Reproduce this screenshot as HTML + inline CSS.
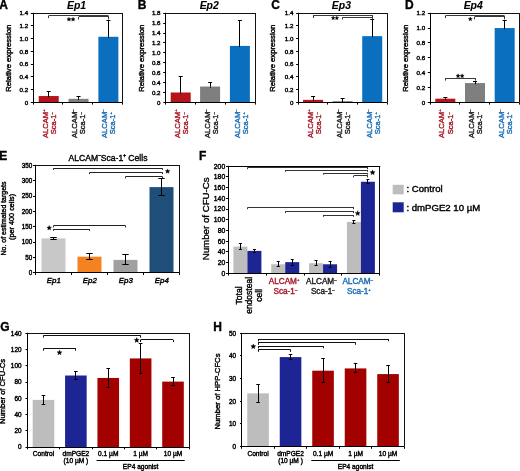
<!DOCTYPE html>
<html><head><meta charset="utf-8"><style>
html,body{margin:0;padding:0;background:#fff;width:520px;height:471px;overflow:hidden}
svg{display:block;will-change:transform}
text{font-family:"Liberation Sans", sans-serif}
</style></head><body>
<svg width="520" height="471" viewBox="0 0 520 471">
<rect width="520" height="471" fill="#fff"/>
<text x="-0.70" y="8.70" font-size="12" text-anchor="start" fill="#000" stroke="#000" stroke-width="0.35" font-weight="bold" font-style="normal" >A</text>
<text x="76.60" y="8.70" font-size="10.4" text-anchor="middle" fill="#000" stroke="#000" stroke-width="0.1" font-weight="bold" font-style="italic" >Ep1</text>
<line x1="33.00" y1="13.50" x2="123.00" y2="13.50" stroke="#111" stroke-width="1" />
<line x1="122.50" y1="13.20" x2="122.50" y2="102.40" stroke="#111" stroke-width="1" />
<line x1="48.50" y1="91.82" x2="48.50" y2="96.03" stroke="#000" stroke-width="1" />
<line x1="46.72" y1="91.50" x2="50.72" y2="91.50" stroke="#000" stroke-width="1" />
<rect x="38.72" y="96.03" width="20.00" height="6.37" fill="#b5141c"/>
<line x1="48.50" y1="96.03" x2="48.50" y2="97.23" stroke="#000" stroke-width="1" />
<line x1="78.50" y1="96.22" x2="78.50" y2="98.83" stroke="#000" stroke-width="1" />
<line x1="76.55" y1="96.50" x2="80.55" y2="96.50" stroke="#000" stroke-width="1" />
<rect x="68.55" y="98.83" width="20.00" height="3.57" fill="#7f7f7f"/>
<line x1="78.50" y1="98.83" x2="78.50" y2="100.03" stroke="#000" stroke-width="1" />
<line x1="108.50" y1="20.21" x2="108.50" y2="36.77" stroke="#000" stroke-width="1" />
<line x1="106.38" y1="20.50" x2="110.38" y2="20.50" stroke="#000" stroke-width="1" />
<rect x="98.38" y="36.77" width="20.00" height="65.63" fill="#0a6fbf"/>
<line x1="108.50" y1="36.77" x2="108.50" y2="37.97" stroke="#000" stroke-width="1" />
<line x1="33.50" y1="12.80" x2="33.50" y2="102.80" stroke="#000" stroke-width="1" />
<line x1="33.00" y1="102.50" x2="122.50" y2="102.50" stroke="#000" stroke-width="1" />
<line x1="30.80" y1="102.50" x2="33.00" y2="102.50" stroke="#000" stroke-width="1" />
<text x="28.10" y="104.60" font-size="6.2" text-anchor="end" fill="#000" stroke="#000" stroke-width="0.4" font-weight="normal" font-style="normal" >0</text>
<line x1="30.80" y1="89.50" x2="33.00" y2="89.50" stroke="#000" stroke-width="1" />
<text x="28.10" y="91.86" font-size="6.2" text-anchor="end" fill="#000" stroke="#000" stroke-width="0.4" font-weight="normal" font-style="normal" >0.2</text>
<line x1="30.80" y1="76.50" x2="33.00" y2="76.50" stroke="#000" stroke-width="1" />
<text x="28.10" y="79.11" font-size="6.2" text-anchor="end" fill="#000" stroke="#000" stroke-width="0.4" font-weight="normal" font-style="normal" >0.4</text>
<line x1="30.80" y1="64.50" x2="33.00" y2="64.50" stroke="#000" stroke-width="1" />
<text x="28.10" y="66.37" font-size="6.2" text-anchor="end" fill="#000" stroke="#000" stroke-width="0.4" font-weight="normal" font-style="normal" >0.6</text>
<line x1="30.80" y1="51.50" x2="33.00" y2="51.50" stroke="#000" stroke-width="1" />
<text x="28.10" y="53.63" font-size="6.2" text-anchor="end" fill="#000" stroke="#000" stroke-width="0.4" font-weight="normal" font-style="normal" >0.8</text>
<line x1="30.80" y1="38.50" x2="33.00" y2="38.50" stroke="#000" stroke-width="1" />
<text x="28.10" y="40.89" font-size="6.2" text-anchor="end" fill="#000" stroke="#000" stroke-width="0.4" font-weight="normal" font-style="normal" >1.0</text>
<line x1="30.80" y1="25.50" x2="33.00" y2="25.50" stroke="#000" stroke-width="1" />
<text x="28.10" y="28.14" font-size="6.2" text-anchor="end" fill="#000" stroke="#000" stroke-width="0.4" font-weight="normal" font-style="normal" >1.2</text>
<line x1="30.80" y1="13.50" x2="33.00" y2="13.50" stroke="#000" stroke-width="1" />
<text x="28.10" y="15.40" font-size="6.2" text-anchor="end" fill="#000" stroke="#000" stroke-width="0.4" font-weight="normal" font-style="normal" >1.4</text>
<line x1="33.50" y1="102.40" x2="33.50" y2="104.60" stroke="#000" stroke-width="1" />
<line x1="62.50" y1="102.40" x2="62.50" y2="104.60" stroke="#000" stroke-width="1" />
<line x1="92.50" y1="102.40" x2="92.50" y2="104.60" stroke="#000" stroke-width="1" />
<line x1="122.50" y1="102.40" x2="122.50" y2="104.60" stroke="#000" stroke-width="1" />
<text x="0" y="0" transform="translate(11.30,58.30) rotate(-90)" font-size="7.7" text-anchor="middle" fill="#000" stroke="#000" stroke-width="0.4" font-weight="normal" font-style="normal" textLength="67.00" lengthAdjust="spacingAndGlyphs" >Relative expression</text>
<text x="0" y="0" transform="translate(47.52,123.70) rotate(-90)" font-size="7.6" text-anchor="middle" fill="#a81a2a" stroke="#a81a2a" stroke-width="0.4" font-weight="normal" font-style="normal" >ALCAM<tspan font-size="4.2" dy="-3.0">+</tspan></text>
<text x="0" y="0" transform="translate(55.62,123.20) rotate(-90)" font-size="7.6" text-anchor="middle" fill="#a81a2a" stroke="#a81a2a" stroke-width="0.4" font-weight="normal" font-style="normal" >Sca-1<tspan font-size="4.2" dy="-3.0">&#8211;</tspan></text>
<text x="0" y="0" transform="translate(77.35,123.70) rotate(-90)" font-size="7.6" text-anchor="middle" fill="#222" stroke="#222" stroke-width="0.4" font-weight="normal" font-style="normal" >ALCAM<tspan font-size="4.2" dy="-3.0">&#8211;</tspan></text>
<text x="0" y="0" transform="translate(85.45,123.20) rotate(-90)" font-size="7.6" text-anchor="middle" fill="#222" stroke="#222" stroke-width="0.4" font-weight="normal" font-style="normal" >Sca-1<tspan font-size="4.2" dy="-3.0">&#8211;</tspan></text>
<text x="0" y="0" transform="translate(107.18,123.70) rotate(-90)" font-size="7.6" text-anchor="middle" fill="#1f6fb5" stroke="#1f6fb5" stroke-width="0.4" font-weight="normal" font-style="normal" >ALCAM<tspan font-size="4.2" dy="-3.0">&#8211;</tspan></text>
<text x="0" y="0" transform="translate(115.28,123.20) rotate(-90)" font-size="7.6" text-anchor="middle" fill="#1f6fb5" stroke="#1f6fb5" stroke-width="0.4" font-weight="normal" font-style="normal" >Sca-1<tspan font-size="4.2" dy="-3.0">+</tspan></text>
<line x1="48.90" y1="15.50" x2="108.20" y2="15.50" stroke="#3a3a3a" stroke-width="1" />
<line x1="48.50" y1="15.60" x2="48.50" y2="18.10" stroke="#3a3a3a" stroke-width="1" />
<line x1="108.50" y1="15.60" x2="108.50" y2="18.10" stroke="#3a3a3a" stroke-width="1" />
<line x1="78.80" y1="16.50" x2="108.20" y2="16.50" stroke="#3a3a3a" stroke-width="1" />
<line x1="78.50" y1="16.90" x2="78.50" y2="19.50" stroke="#3a3a3a" stroke-width="1" />
<line x1="108.50" y1="16.90" x2="108.50" y2="19.50" stroke="#3a3a3a" stroke-width="1" />
<polygon points="68.96,17.20 69.53,18.57 71.00,18.68 69.88,19.65 70.22,21.09 68.96,20.32 67.69,21.09 68.04,19.65 66.91,18.68 68.39,18.57" fill="#000" stroke="#000" stroke-width="0.35" stroke-linejoin="round"/>
<polygon points="73.04,17.20 73.61,18.57 75.09,18.68 73.96,19.65 74.31,21.09 73.04,20.32 71.78,21.09 72.12,19.65 71.00,18.68 72.47,18.57" fill="#000" stroke="#000" stroke-width="0.35" stroke-linejoin="round"/>
<text x="137.80" y="8.70" font-size="12" text-anchor="start" fill="#000" stroke="#000" stroke-width="0.35" font-weight="bold" font-style="normal" >B</text>
<text x="209.20" y="8.70" font-size="10.4" text-anchor="middle" fill="#000" stroke="#000" stroke-width="0.1" font-weight="bold" font-style="italic" >Ep2</text>
<line x1="165.40" y1="13.50" x2="255.90" y2="13.50" stroke="#111" stroke-width="1" />
<line x1="255.50" y1="13.20" x2="255.50" y2="102.40" stroke="#111" stroke-width="1" />
<line x1="180.50" y1="76.63" x2="180.50" y2="92.49" stroke="#000" stroke-width="1" />
<line x1="178.70" y1="76.50" x2="182.70" y2="76.50" stroke="#000" stroke-width="1" />
<rect x="170.70" y="92.49" width="20.00" height="9.91" fill="#b5141c"/>
<line x1="180.50" y1="92.49" x2="180.50" y2="93.69" stroke="#000" stroke-width="1" />
<line x1="210.50" y1="82.58" x2="210.50" y2="86.54" stroke="#000" stroke-width="1" />
<line x1="208.10" y1="82.50" x2="212.10" y2="82.50" stroke="#000" stroke-width="1" />
<rect x="200.10" y="86.54" width="20.00" height="15.86" fill="#7f7f7f"/>
<line x1="210.50" y1="86.54" x2="210.50" y2="87.74" stroke="#000" stroke-width="1" />
<line x1="239.50" y1="20.39" x2="239.50" y2="45.91" stroke="#000" stroke-width="1" />
<line x1="237.90" y1="20.50" x2="241.90" y2="20.50" stroke="#000" stroke-width="1" />
<rect x="229.90" y="45.91" width="20.00" height="56.49" fill="#0a6fbf"/>
<line x1="239.50" y1="45.91" x2="239.50" y2="47.11" stroke="#000" stroke-width="1" />
<line x1="165.50" y1="12.80" x2="165.50" y2="102.80" stroke="#000" stroke-width="1" />
<line x1="165.40" y1="102.50" x2="255.40" y2="102.50" stroke="#000" stroke-width="1" />
<line x1="163.20" y1="102.50" x2="165.40" y2="102.50" stroke="#000" stroke-width="1" />
<text x="160.50" y="104.60" font-size="6.2" text-anchor="end" fill="#000" stroke="#000" stroke-width="0.4" font-weight="normal" font-style="normal" >0</text>
<line x1="163.20" y1="92.50" x2="165.40" y2="92.50" stroke="#000" stroke-width="1" />
<text x="160.50" y="94.69" font-size="6.2" text-anchor="end" fill="#000" stroke="#000" stroke-width="0.4" font-weight="normal" font-style="normal" >0.2</text>
<line x1="163.20" y1="82.50" x2="165.40" y2="82.50" stroke="#000" stroke-width="1" />
<text x="160.50" y="84.78" font-size="6.2" text-anchor="end" fill="#000" stroke="#000" stroke-width="0.4" font-weight="normal" font-style="normal" >0.4</text>
<line x1="163.20" y1="72.50" x2="165.40" y2="72.50" stroke="#000" stroke-width="1" />
<text x="160.50" y="74.87" font-size="6.2" text-anchor="end" fill="#000" stroke="#000" stroke-width="0.4" font-weight="normal" font-style="normal" >0.6</text>
<line x1="163.20" y1="62.50" x2="165.40" y2="62.50" stroke="#000" stroke-width="1" />
<text x="160.50" y="64.96" font-size="6.2" text-anchor="end" fill="#000" stroke="#000" stroke-width="0.4" font-weight="normal" font-style="normal" >0.8</text>
<line x1="163.20" y1="52.50" x2="165.40" y2="52.50" stroke="#000" stroke-width="1" />
<text x="160.50" y="55.04" font-size="6.2" text-anchor="end" fill="#000" stroke="#000" stroke-width="0.4" font-weight="normal" font-style="normal" >1.0</text>
<line x1="163.20" y1="42.50" x2="165.40" y2="42.50" stroke="#000" stroke-width="1" />
<text x="160.50" y="45.13" font-size="6.2" text-anchor="end" fill="#000" stroke="#000" stroke-width="0.4" font-weight="normal" font-style="normal" >1.2</text>
<line x1="163.20" y1="33.50" x2="165.40" y2="33.50" stroke="#000" stroke-width="1" />
<text x="160.50" y="35.22" font-size="6.2" text-anchor="end" fill="#000" stroke="#000" stroke-width="0.4" font-weight="normal" font-style="normal" >1.4</text>
<line x1="163.20" y1="23.50" x2="165.40" y2="23.50" stroke="#000" stroke-width="1" />
<text x="160.50" y="25.31" font-size="6.2" text-anchor="end" fill="#000" stroke="#000" stroke-width="0.4" font-weight="normal" font-style="normal" >1.6</text>
<line x1="163.20" y1="13.50" x2="165.40" y2="13.50" stroke="#000" stroke-width="1" />
<text x="160.50" y="15.40" font-size="6.2" text-anchor="end" fill="#000" stroke="#000" stroke-width="0.4" font-weight="normal" font-style="normal" >1.8</text>
<line x1="165.50" y1="102.40" x2="165.50" y2="104.60" stroke="#000" stroke-width="1" />
<line x1="195.50" y1="102.40" x2="195.50" y2="104.60" stroke="#000" stroke-width="1" />
<line x1="225.50" y1="102.40" x2="225.50" y2="104.60" stroke="#000" stroke-width="1" />
<line x1="255.50" y1="102.40" x2="255.50" y2="104.60" stroke="#000" stroke-width="1" />
<text x="0" y="0" transform="translate(144.30,58.30) rotate(-90)" font-size="7.7" text-anchor="middle" fill="#000" stroke="#000" stroke-width="0.4" font-weight="normal" font-style="normal" textLength="67.00" lengthAdjust="spacingAndGlyphs" >Relative expression</text>
<text x="0" y="0" transform="translate(180.00,123.70) rotate(-90)" font-size="7.6" text-anchor="middle" fill="#a81a2a" stroke="#a81a2a" stroke-width="0.4" font-weight="normal" font-style="normal" >ALCAM<tspan font-size="4.2" dy="-3.0">+</tspan></text>
<text x="0" y="0" transform="translate(188.10,123.20) rotate(-90)" font-size="7.6" text-anchor="middle" fill="#a81a2a" stroke="#a81a2a" stroke-width="0.4" font-weight="normal" font-style="normal" >Sca-1<tspan font-size="4.2" dy="-3.0">&#8211;</tspan></text>
<text x="0" y="0" transform="translate(210.00,123.70) rotate(-90)" font-size="7.6" text-anchor="middle" fill="#222" stroke="#222" stroke-width="0.4" font-weight="normal" font-style="normal" >ALCAM<tspan font-size="4.2" dy="-3.0">&#8211;</tspan></text>
<text x="0" y="0" transform="translate(218.10,123.20) rotate(-90)" font-size="7.6" text-anchor="middle" fill="#222" stroke="#222" stroke-width="0.4" font-weight="normal" font-style="normal" >Sca-1<tspan font-size="4.2" dy="-3.0">&#8211;</tspan></text>
<text x="0" y="0" transform="translate(240.00,123.70) rotate(-90)" font-size="7.6" text-anchor="middle" fill="#1f6fb5" stroke="#1f6fb5" stroke-width="0.4" font-weight="normal" font-style="normal" >ALCAM<tspan font-size="4.2" dy="-3.0">&#8211;</tspan></text>
<text x="0" y="0" transform="translate(248.10,123.20) rotate(-90)" font-size="7.6" text-anchor="middle" fill="#1f6fb5" stroke="#1f6fb5" stroke-width="0.4" font-weight="normal" font-style="normal" >Sca-1<tspan font-size="4.2" dy="-3.0">+</tspan></text>
<text x="271.30" y="8.70" font-size="12" text-anchor="start" fill="#000" stroke="#000" stroke-width="0.35" font-weight="bold" font-style="normal" >C</text>
<text x="341.40" y="8.70" font-size="10.4" text-anchor="middle" fill="#000" stroke="#000" stroke-width="0.1" font-weight="bold" font-style="italic" >Ep3</text>
<line x1="298.30" y1="13.50" x2="387.50" y2="13.50" stroke="#111" stroke-width="1" />
<line x1="387.50" y1="13.20" x2="387.50" y2="102.40" stroke="#111" stroke-width="1" />
<line x1="313.50" y1="96.03" x2="313.50" y2="99.85" stroke="#000" stroke-width="1" />
<line x1="311.08" y1="96.50" x2="315.08" y2="96.50" stroke="#000" stroke-width="1" />
<rect x="303.08" y="99.85" width="20.00" height="2.55" fill="#b5141c"/>
<line x1="313.50" y1="99.85" x2="313.50" y2="101.05" stroke="#000" stroke-width="1" />
<line x1="342.50" y1="98.58" x2="342.50" y2="101.13" stroke="#000" stroke-width="1" />
<line x1="340.65" y1="98.50" x2="344.65" y2="98.50" stroke="#000" stroke-width="1" />
<rect x="332.65" y="101.13" width="20.00" height="1.27" fill="#7f7f7f"/>
<line x1="342.50" y1="101.13" x2="342.50" y2="102.33" stroke="#000" stroke-width="1" />
<line x1="372.50" y1="19.57" x2="372.50" y2="36.14" stroke="#000" stroke-width="1" />
<line x1="370.22" y1="19.50" x2="374.22" y2="19.50" stroke="#000" stroke-width="1" />
<rect x="362.22" y="36.14" width="20.00" height="66.26" fill="#0a6fbf"/>
<line x1="372.50" y1="36.14" x2="372.50" y2="37.34" stroke="#000" stroke-width="1" />
<line x1="298.50" y1="12.80" x2="298.50" y2="102.80" stroke="#000" stroke-width="1" />
<line x1="298.30" y1="102.50" x2="387.00" y2="102.50" stroke="#000" stroke-width="1" />
<line x1="296.10" y1="102.50" x2="298.30" y2="102.50" stroke="#000" stroke-width="1" />
<text x="293.40" y="104.60" font-size="6.2" text-anchor="end" fill="#000" stroke="#000" stroke-width="0.4" font-weight="normal" font-style="normal" >0</text>
<line x1="296.10" y1="89.50" x2="298.30" y2="89.50" stroke="#000" stroke-width="1" />
<text x="293.40" y="91.86" font-size="6.2" text-anchor="end" fill="#000" stroke="#000" stroke-width="0.4" font-weight="normal" font-style="normal" >0.2</text>
<line x1="296.10" y1="76.50" x2="298.30" y2="76.50" stroke="#000" stroke-width="1" />
<text x="293.40" y="79.11" font-size="6.2" text-anchor="end" fill="#000" stroke="#000" stroke-width="0.4" font-weight="normal" font-style="normal" >0.4</text>
<line x1="296.10" y1="64.50" x2="298.30" y2="64.50" stroke="#000" stroke-width="1" />
<text x="293.40" y="66.37" font-size="6.2" text-anchor="end" fill="#000" stroke="#000" stroke-width="0.4" font-weight="normal" font-style="normal" >0.6</text>
<line x1="296.10" y1="51.50" x2="298.30" y2="51.50" stroke="#000" stroke-width="1" />
<text x="293.40" y="53.63" font-size="6.2" text-anchor="end" fill="#000" stroke="#000" stroke-width="0.4" font-weight="normal" font-style="normal" >0.8</text>
<line x1="296.10" y1="38.50" x2="298.30" y2="38.50" stroke="#000" stroke-width="1" />
<text x="293.40" y="40.89" font-size="6.2" text-anchor="end" fill="#000" stroke="#000" stroke-width="0.4" font-weight="normal" font-style="normal" >1.0</text>
<line x1="296.10" y1="25.50" x2="298.30" y2="25.50" stroke="#000" stroke-width="1" />
<text x="293.40" y="28.14" font-size="6.2" text-anchor="end" fill="#000" stroke="#000" stroke-width="0.4" font-weight="normal" font-style="normal" >1.2</text>
<line x1="296.10" y1="13.50" x2="298.30" y2="13.50" stroke="#000" stroke-width="1" />
<text x="293.40" y="15.40" font-size="6.2" text-anchor="end" fill="#000" stroke="#000" stroke-width="0.4" font-weight="normal" font-style="normal" >1.4</text>
<line x1="298.50" y1="102.40" x2="298.50" y2="104.60" stroke="#000" stroke-width="1" />
<line x1="327.50" y1="102.40" x2="327.50" y2="104.60" stroke="#000" stroke-width="1" />
<line x1="357.50" y1="102.40" x2="357.50" y2="104.60" stroke="#000" stroke-width="1" />
<line x1="387.50" y1="102.40" x2="387.50" y2="104.60" stroke="#000" stroke-width="1" />
<text x="0" y="0" transform="translate(275.10,58.30) rotate(-90)" font-size="7.7" text-anchor="middle" fill="#000" stroke="#000" stroke-width="0.4" font-weight="normal" font-style="normal" textLength="67.00" lengthAdjust="spacingAndGlyphs" >Relative expression</text>
<text x="0" y="0" transform="translate(312.68,123.70) rotate(-90)" font-size="7.6" text-anchor="middle" fill="#a81a2a" stroke="#a81a2a" stroke-width="0.4" font-weight="normal" font-style="normal" >ALCAM<tspan font-size="4.2" dy="-3.0">+</tspan></text>
<text x="0" y="0" transform="translate(320.78,123.20) rotate(-90)" font-size="7.6" text-anchor="middle" fill="#a81a2a" stroke="#a81a2a" stroke-width="0.4" font-weight="normal" font-style="normal" >Sca-1<tspan font-size="4.2" dy="-3.0">&#8211;</tspan></text>
<text x="0" y="0" transform="translate(342.25,123.70) rotate(-90)" font-size="7.6" text-anchor="middle" fill="#222" stroke="#222" stroke-width="0.4" font-weight="normal" font-style="normal" >ALCAM<tspan font-size="4.2" dy="-3.0">&#8211;</tspan></text>
<text x="0" y="0" transform="translate(350.35,123.20) rotate(-90)" font-size="7.6" text-anchor="middle" fill="#222" stroke="#222" stroke-width="0.4" font-weight="normal" font-style="normal" >Sca-1<tspan font-size="4.2" dy="-3.0">&#8211;</tspan></text>
<text x="0" y="0" transform="translate(371.82,123.70) rotate(-90)" font-size="7.6" text-anchor="middle" fill="#1f6fb5" stroke="#1f6fb5" stroke-width="0.4" font-weight="normal" font-style="normal" >ALCAM<tspan font-size="4.2" dy="-3.0">&#8211;</tspan></text>
<text x="0" y="0" transform="translate(379.92,123.20) rotate(-90)" font-size="7.6" text-anchor="middle" fill="#1f6fb5" stroke="#1f6fb5" stroke-width="0.4" font-weight="normal" font-style="normal" >Sca-1<tspan font-size="4.2" dy="-3.0">+</tspan></text>
<line x1="313.00" y1="15.50" x2="372.20" y2="15.50" stroke="#3a3a3a" stroke-width="1" />
<line x1="313.50" y1="15.00" x2="313.50" y2="18.00" stroke="#3a3a3a" stroke-width="1" />
<line x1="372.50" y1="15.00" x2="372.50" y2="18.00" stroke="#3a3a3a" stroke-width="1" />
<line x1="342.50" y1="17.50" x2="372.20" y2="17.50" stroke="#3a3a3a" stroke-width="1" />
<line x1="342.50" y1="17.30" x2="342.50" y2="19.50" stroke="#3a3a3a" stroke-width="1" />
<line x1="372.50" y1="17.30" x2="372.50" y2="19.50" stroke="#3a3a3a" stroke-width="1" />
<polygon points="333.15,16.10 333.67,17.34 335.00,17.45 333.99,18.32 334.30,19.63 333.15,18.93 332.01,19.63 332.32,18.32 331.30,17.45 332.64,17.34" fill="#000" stroke="#000" stroke-width="0.35" stroke-linejoin="round"/>
<polygon points="336.85,16.10 337.36,17.34 338.70,17.45 337.68,18.32 337.99,19.63 336.85,18.93 335.70,19.63 336.01,18.32 335.00,17.45 336.33,17.34" fill="#000" stroke="#000" stroke-width="0.35" stroke-linejoin="round"/>
<text x="405.00" y="8.70" font-size="12" text-anchor="start" fill="#000" stroke="#000" stroke-width="0.35" font-weight="bold" font-style="normal" >D</text>
<text x="473.20" y="8.70" font-size="10.4" text-anchor="middle" fill="#000" stroke="#000" stroke-width="0.1" font-weight="bold" font-style="italic" >Ep4</text>
<line x1="430.00" y1="13.50" x2="519.50" y2="13.50" stroke="#111" stroke-width="1" />
<line x1="519.50" y1="13.20" x2="519.50" y2="102.40" stroke="#111" stroke-width="1" />
<line x1="445.50" y1="97.20" x2="445.50" y2="98.68" stroke="#000" stroke-width="1" />
<line x1="443.33" y1="97.50" x2="447.33" y2="97.50" stroke="#000" stroke-width="1" />
<rect x="435.33" y="98.68" width="20.00" height="3.72" fill="#b5141c"/>
<line x1="445.50" y1="98.68" x2="445.50" y2="99.88" stroke="#000" stroke-width="1" />
<line x1="475.50" y1="81.59" x2="475.50" y2="83.07" stroke="#000" stroke-width="1" />
<line x1="473.00" y1="81.50" x2="477.00" y2="81.50" stroke="#000" stroke-width="1" />
<rect x="465.00" y="83.07" width="20.00" height="19.33" fill="#7f7f7f"/>
<line x1="475.50" y1="83.07" x2="475.50" y2="84.27" stroke="#000" stroke-width="1" />
<line x1="504.50" y1="20.26" x2="504.50" y2="28.07" stroke="#000" stroke-width="1" />
<line x1="502.67" y1="20.50" x2="506.67" y2="20.50" stroke="#000" stroke-width="1" />
<rect x="494.67" y="28.07" width="20.00" height="74.33" fill="#0a6fbf"/>
<line x1="504.50" y1="28.07" x2="504.50" y2="29.27" stroke="#000" stroke-width="1" />
<line x1="430.50" y1="12.80" x2="430.50" y2="102.80" stroke="#000" stroke-width="1" />
<line x1="430.00" y1="102.50" x2="519.00" y2="102.50" stroke="#000" stroke-width="1" />
<line x1="427.80" y1="102.50" x2="430.00" y2="102.50" stroke="#000" stroke-width="1" />
<text x="425.10" y="104.60" font-size="6.2" text-anchor="end" fill="#000" stroke="#000" stroke-width="0.4" font-weight="normal" font-style="normal" >0</text>
<line x1="427.80" y1="87.50" x2="430.00" y2="87.50" stroke="#000" stroke-width="1" />
<text x="425.10" y="89.73" font-size="6.2" text-anchor="end" fill="#000" stroke="#000" stroke-width="0.4" font-weight="normal" font-style="normal" >0.2</text>
<line x1="427.80" y1="72.50" x2="430.00" y2="72.50" stroke="#000" stroke-width="1" />
<text x="425.10" y="74.87" font-size="6.2" text-anchor="end" fill="#000" stroke="#000" stroke-width="0.4" font-weight="normal" font-style="normal" >0.4</text>
<line x1="427.80" y1="57.50" x2="430.00" y2="57.50" stroke="#000" stroke-width="1" />
<text x="425.10" y="60.00" font-size="6.2" text-anchor="end" fill="#000" stroke="#000" stroke-width="0.4" font-weight="normal" font-style="normal" >0.6</text>
<line x1="427.80" y1="42.50" x2="430.00" y2="42.50" stroke="#000" stroke-width="1" />
<text x="425.10" y="45.13" font-size="6.2" text-anchor="end" fill="#000" stroke="#000" stroke-width="0.4" font-weight="normal" font-style="normal" >0.8</text>
<line x1="427.80" y1="28.50" x2="430.00" y2="28.50" stroke="#000" stroke-width="1" />
<text x="425.10" y="30.27" font-size="6.2" text-anchor="end" fill="#000" stroke="#000" stroke-width="0.4" font-weight="normal" font-style="normal" >1.0</text>
<line x1="427.80" y1="13.50" x2="430.00" y2="13.50" stroke="#000" stroke-width="1" />
<text x="425.10" y="15.40" font-size="6.2" text-anchor="end" fill="#000" stroke="#000" stroke-width="0.4" font-weight="normal" font-style="normal" >1.2</text>
<line x1="430.50" y1="102.40" x2="430.50" y2="104.60" stroke="#000" stroke-width="1" />
<line x1="459.50" y1="102.40" x2="459.50" y2="104.60" stroke="#000" stroke-width="1" />
<line x1="489.50" y1="102.40" x2="489.50" y2="104.60" stroke="#000" stroke-width="1" />
<line x1="519.50" y1="102.40" x2="519.50" y2="104.60" stroke="#000" stroke-width="1" />
<text x="0" y="0" transform="translate(408.10,58.30) rotate(-90)" font-size="7.7" text-anchor="middle" fill="#000" stroke="#000" stroke-width="0.4" font-weight="normal" font-style="normal" textLength="67.00" lengthAdjust="spacingAndGlyphs" >Relative expression</text>
<text x="0" y="0" transform="translate(444.43,123.70) rotate(-90)" font-size="7.6" text-anchor="middle" fill="#a81a2a" stroke="#a81a2a" stroke-width="0.4" font-weight="normal" font-style="normal" >ALCAM<tspan font-size="4.2" dy="-3.0">+</tspan></text>
<text x="0" y="0" transform="translate(452.53,123.20) rotate(-90)" font-size="7.6" text-anchor="middle" fill="#a81a2a" stroke="#a81a2a" stroke-width="0.4" font-weight="normal" font-style="normal" >Sca-1<tspan font-size="4.2" dy="-3.0">&#8211;</tspan></text>
<text x="0" y="0" transform="translate(474.10,123.70) rotate(-90)" font-size="7.6" text-anchor="middle" fill="#222" stroke="#222" stroke-width="0.4" font-weight="normal" font-style="normal" >ALCAM<tspan font-size="4.2" dy="-3.0">&#8211;</tspan></text>
<text x="0" y="0" transform="translate(482.20,123.20) rotate(-90)" font-size="7.6" text-anchor="middle" fill="#222" stroke="#222" stroke-width="0.4" font-weight="normal" font-style="normal" >Sca-1<tspan font-size="4.2" dy="-3.0">&#8211;</tspan></text>
<text x="0" y="0" transform="translate(503.77,123.70) rotate(-90)" font-size="7.6" text-anchor="middle" fill="#1f6fb5" stroke="#1f6fb5" stroke-width="0.4" font-weight="normal" font-style="normal" >ALCAM<tspan font-size="4.2" dy="-3.0">&#8211;</tspan></text>
<text x="0" y="0" transform="translate(511.87,123.20) rotate(-90)" font-size="7.6" text-anchor="middle" fill="#1f6fb5" stroke="#1f6fb5" stroke-width="0.4" font-weight="normal" font-style="normal" >Sca-1<tspan font-size="4.2" dy="-3.0">+</tspan></text>
<line x1="445.50" y1="15.50" x2="504.40" y2="15.50" stroke="#3a3a3a" stroke-width="1" />
<line x1="445.50" y1="15.80" x2="445.50" y2="18.10" stroke="#3a3a3a" stroke-width="1" />
<line x1="504.50" y1="15.80" x2="504.50" y2="18.10" stroke="#3a3a3a" stroke-width="1" />
<line x1="474.60" y1="16.50" x2="504.40" y2="16.50" stroke="#3a3a3a" stroke-width="1" />
<line x1="474.50" y1="16.80" x2="474.50" y2="19.40" stroke="#3a3a3a" stroke-width="1" />
<line x1="504.50" y1="16.80" x2="504.50" y2="19.40" stroke="#3a3a3a" stroke-width="1" />
<polygon points="470.30,16.90 470.87,18.27 472.35,18.38 471.22,19.35 471.57,20.79 470.30,20.02 469.03,20.79 469.38,19.35 468.25,18.38 469.73,18.27" fill="#000" stroke="#000" stroke-width="0.35" stroke-linejoin="round"/>
<line x1="445.00" y1="78.50" x2="475.00" y2="78.50" stroke="#3a3a3a" stroke-width="1" />
<line x1="445.50" y1="78.00" x2="445.50" y2="80.60" stroke="#3a3a3a" stroke-width="1" />
<line x1="475.50" y1="78.00" x2="475.50" y2="80.60" stroke="#3a3a3a" stroke-width="1" />
<polygon points="458.06,73.80 458.63,75.17 460.10,75.28 458.98,76.25 459.32,77.69 458.06,76.92 456.79,77.69 457.14,76.25 456.01,75.28 457.49,75.17" fill="#000" stroke="#000" stroke-width="0.35" stroke-linejoin="round"/>
<polygon points="462.14,73.80 462.71,75.17 464.19,75.28 463.06,76.25 463.41,77.69 462.14,76.92 460.88,77.69 461.22,76.25 460.10,75.28 461.57,75.17" fill="#000" stroke="#000" stroke-width="0.35" stroke-linejoin="round"/>
<text x="-0.70" y="160.00" font-size="12" text-anchor="start" fill="#000" stroke="#000" stroke-width="0.35" font-weight="bold" font-style="normal" >E</text>
<text x="68.50" y="160.80" font-size="9.3" text-anchor="start" fill="#000" stroke="#000" stroke-width="0.4" font-weight="normal" font-style="normal" textLength="79.00" lengthAdjust="spacingAndGlyphs" >ALCAM<tspan font-size="5.1" dy="-3.7">&#8211;</tspan><tspan dy="3.7">Sca-1</tspan><tspan font-size="5.1" dy="-3.7">+</tspan><tspan dy="3.7"> Cells</tspan></text>
<line x1="35.50" y1="165.50" x2="180.00" y2="165.50" stroke="#111" stroke-width="1" />
<line x1="179.50" y1="165.30" x2="179.50" y2="272.80" stroke="#111" stroke-width="1" />
<rect x="41.50" y="238.40" width="24.00" height="34.40" fill="#c8c8c8"/>
<line x1="53.50" y1="237.02" x2="53.50" y2="239.78" stroke="#000" stroke-width="1" />
<line x1="50.30" y1="237.50" x2="56.70" y2="237.50" stroke="#000" stroke-width="1" />
<line x1="50.30" y1="239.50" x2="56.70" y2="239.50" stroke="#000" stroke-width="1" />
<rect x="77.50" y="256.68" width="24.00" height="16.12" fill="#f58220"/>
<line x1="89.50" y1="253.91" x2="89.50" y2="259.44" stroke="#000" stroke-width="1" />
<line x1="86.30" y1="253.50" x2="92.70" y2="253.50" stroke="#000" stroke-width="1" />
<line x1="86.30" y1="259.50" x2="92.70" y2="259.50" stroke="#000" stroke-width="1" />
<rect x="113.50" y="259.90" width="24.00" height="12.90" fill="#a0a0a0"/>
<line x1="125.50" y1="254.99" x2="125.50" y2="264.81" stroke="#000" stroke-width="1" />
<line x1="122.30" y1="254.50" x2="128.70" y2="254.50" stroke="#000" stroke-width="1" />
<line x1="122.30" y1="264.50" x2="128.70" y2="264.50" stroke="#000" stroke-width="1" />
<rect x="149.50" y="187.11" width="24.00" height="85.69" fill="#1f4e79"/>
<line x1="161.50" y1="178.81" x2="161.50" y2="195.40" stroke="#000" stroke-width="1" />
<line x1="158.30" y1="178.50" x2="164.70" y2="178.50" stroke="#000" stroke-width="1" />
<line x1="158.30" y1="195.50" x2="164.70" y2="195.50" stroke="#000" stroke-width="1" />
<line x1="35.50" y1="164.90" x2="35.50" y2="273.20" stroke="#000" stroke-width="1" />
<line x1="35.50" y1="272.50" x2="179.50" y2="272.50" stroke="#000" stroke-width="1" />
<line x1="33.00" y1="272.50" x2="35.50" y2="272.50" stroke="#000" stroke-width="1" />
<text x="32.30" y="275.00" font-size="6.3" text-anchor="end" fill="#000" stroke="#000" stroke-width="0.4" font-weight="normal" font-style="normal" >0</text>
<line x1="33.00" y1="257.50" x2="35.50" y2="257.50" stroke="#000" stroke-width="1" />
<text x="32.30" y="259.64" font-size="6.3" text-anchor="end" fill="#000" stroke="#000" stroke-width="0.4" font-weight="normal" font-style="normal" >50</text>
<line x1="33.00" y1="242.50" x2="35.50" y2="242.50" stroke="#000" stroke-width="1" />
<text x="32.30" y="244.29" font-size="6.3" text-anchor="end" fill="#000" stroke="#000" stroke-width="0.4" font-weight="normal" font-style="normal" >100</text>
<line x1="33.00" y1="226.50" x2="35.50" y2="226.50" stroke="#000" stroke-width="1" />
<text x="32.30" y="228.93" font-size="6.3" text-anchor="end" fill="#000" stroke="#000" stroke-width="0.4" font-weight="normal" font-style="normal" >150</text>
<line x1="33.00" y1="211.50" x2="35.50" y2="211.50" stroke="#000" stroke-width="1" />
<text x="32.30" y="213.57" font-size="6.3" text-anchor="end" fill="#000" stroke="#000" stroke-width="0.4" font-weight="normal" font-style="normal" >200</text>
<line x1="33.00" y1="196.50" x2="35.50" y2="196.50" stroke="#000" stroke-width="1" />
<text x="32.30" y="198.21" font-size="6.3" text-anchor="end" fill="#000" stroke="#000" stroke-width="0.4" font-weight="normal" font-style="normal" >250</text>
<line x1="33.00" y1="180.50" x2="35.50" y2="180.50" stroke="#000" stroke-width="1" />
<text x="32.30" y="182.86" font-size="6.3" text-anchor="end" fill="#000" stroke="#000" stroke-width="0.4" font-weight="normal" font-style="normal" >300</text>
<line x1="33.00" y1="165.50" x2="35.50" y2="165.50" stroke="#000" stroke-width="1" />
<text x="32.30" y="167.50" font-size="6.3" text-anchor="end" fill="#000" stroke="#000" stroke-width="0.4" font-weight="normal" font-style="normal" >350</text>
<line x1="35.50" y1="272.80" x2="35.50" y2="275.00" stroke="#000" stroke-width="1" />
<line x1="71.50" y1="272.80" x2="71.50" y2="275.00" stroke="#000" stroke-width="1" />
<line x1="107.50" y1="272.80" x2="107.50" y2="275.00" stroke="#000" stroke-width="1" />
<line x1="143.50" y1="272.80" x2="143.50" y2="275.00" stroke="#000" stroke-width="1" />
<line x1="179.50" y1="272.80" x2="179.50" y2="275.00" stroke="#000" stroke-width="1" />
<text x="53.80" y="283.40" font-size="7.9" text-anchor="middle" fill="#000" stroke="#000" stroke-width="0.4" font-weight="normal" font-style="italic" >Ep1</text>
<text x="89.80" y="283.40" font-size="7.9" text-anchor="middle" fill="#000" stroke="#000" stroke-width="0.4" font-weight="normal" font-style="italic" >Ep2</text>
<text x="125.80" y="283.40" font-size="7.9" text-anchor="middle" fill="#000" stroke="#000" stroke-width="0.4" font-weight="normal" font-style="italic" >Ep3</text>
<text x="161.80" y="283.40" font-size="7.9" text-anchor="middle" fill="#000" stroke="#000" stroke-width="0.4" font-weight="normal" font-style="italic" >Ep4</text>
<text x="0" y="0" transform="translate(6.00,218.50) rotate(-90)" font-size="7.5" text-anchor="middle" fill="#000" stroke="#000" stroke-width="0.4" font-weight="normal" font-style="normal" textLength="74.00" lengthAdjust="spacingAndGlyphs" >No. of estimated targets</text>
<text x="0" y="0" transform="translate(14.40,216.90) rotate(-90)" font-size="7.5" text-anchor="middle" fill="#000" stroke="#000" stroke-width="0.4" font-weight="normal" font-style="normal" textLength="46.00" lengthAdjust="spacingAndGlyphs" >(per 400 cells)</text>
<line x1="53.50" y1="168.50" x2="162.50" y2="168.50" stroke="#222" stroke-width="1" />
<line x1="53.50" y1="168.30" x2="53.50" y2="169.90" stroke="#222" stroke-width="1" />
<line x1="162.50" y1="168.30" x2="162.50" y2="169.90" stroke="#222" stroke-width="1" />
<line x1="89.50" y1="172.50" x2="162.50" y2="172.50" stroke="#222" stroke-width="1" />
<line x1="89.50" y1="172.50" x2="89.50" y2="174.10" stroke="#222" stroke-width="1" />
<line x1="162.50" y1="172.50" x2="162.50" y2="174.10" stroke="#222" stroke-width="1" />
<line x1="125.50" y1="176.50" x2="162.50" y2="176.50" stroke="#222" stroke-width="1" />
<line x1="125.50" y1="176.70" x2="125.50" y2="178.30" stroke="#222" stroke-width="1" />
<line x1="162.50" y1="176.70" x2="162.50" y2="178.30" stroke="#222" stroke-width="1" />
<polygon points="167.60,168.89 168.25,170.45 169.94,170.59 168.65,171.69 169.05,173.34 167.60,172.46 166.15,173.34 166.55,171.69 165.26,170.59 166.95,170.45" fill="#000" stroke="#000" stroke-width="0.35" stroke-linejoin="round"/>
<line x1="53.50" y1="225.50" x2="125.50" y2="225.50" stroke="#222" stroke-width="1" />
<line x1="53.50" y1="225.80" x2="53.50" y2="227.40" stroke="#222" stroke-width="1" />
<line x1="125.50" y1="225.80" x2="125.50" y2="227.40" stroke="#222" stroke-width="1" />
<line x1="53.50" y1="229.50" x2="89.50" y2="229.50" stroke="#222" stroke-width="1" />
<line x1="53.50" y1="229.20" x2="53.50" y2="230.80" stroke="#222" stroke-width="1" />
<line x1="89.50" y1="229.20" x2="89.50" y2="230.80" stroke="#222" stroke-width="1" />
<polygon points="49.20,225.49 49.85,227.05 51.54,227.19 50.25,228.29 50.65,229.94 49.20,229.06 47.75,229.94 48.15,228.29 46.86,227.19 48.55,227.05" fill="#000" stroke="#000" stroke-width="0.35" stroke-linejoin="round"/>
<text x="199.00" y="159.60" font-size="12" text-anchor="start" fill="#000" stroke="#000" stroke-width="0.35" font-weight="bold" font-style="normal" >F</text>
<line x1="228.50" y1="166.50" x2="380.30" y2="166.50" stroke="#111" stroke-width="1" />
<line x1="379.50" y1="166.20" x2="379.50" y2="273.40" stroke="#111" stroke-width="1" />
<line x1="228.50" y1="166.50" x2="379.80" y2="166.50" stroke="#000" stroke-width="1" />
<rect x="233.41" y="246.60" width="14.00" height="26.80" fill="#bdbdbd"/>
<rect x="247.41" y="250.89" width="14.00" height="22.51" fill="#1c2593"/>
<line x1="240.50" y1="243.65" x2="240.50" y2="249.55" stroke="#000" stroke-width="1" />
<line x1="238.91" y1="243.50" x2="241.91" y2="243.50" stroke="#000" stroke-width="1" />
<line x1="238.91" y1="249.50" x2="241.91" y2="249.50" stroke="#000" stroke-width="1" />
<line x1="254.50" y1="249.01" x2="254.50" y2="252.76" stroke="#000" stroke-width="1" />
<line x1="252.91" y1="249.50" x2="255.91" y2="249.50" stroke="#000" stroke-width="1" />
<line x1="252.91" y1="252.50" x2="255.91" y2="252.50" stroke="#000" stroke-width="1" />
<rect x="271.24" y="264.29" width="14.00" height="9.11" fill="#bdbdbd"/>
<rect x="285.24" y="262.14" width="14.00" height="11.26" fill="#1c2593"/>
<line x1="278.50" y1="261.88" x2="278.50" y2="266.70" stroke="#000" stroke-width="1" />
<line x1="276.74" y1="261.50" x2="279.74" y2="261.50" stroke="#000" stroke-width="1" />
<line x1="276.74" y1="266.50" x2="279.74" y2="266.50" stroke="#000" stroke-width="1" />
<line x1="292.50" y1="259.20" x2="292.50" y2="265.09" stroke="#000" stroke-width="1" />
<line x1="290.74" y1="259.50" x2="293.74" y2="259.50" stroke="#000" stroke-width="1" />
<line x1="290.74" y1="265.50" x2="293.74" y2="265.50" stroke="#000" stroke-width="1" />
<rect x="309.06" y="263.22" width="14.00" height="10.18" fill="#bdbdbd"/>
<rect x="323.06" y="264.29" width="14.00" height="9.11" fill="#1c2593"/>
<line x1="316.50" y1="260.54" x2="316.50" y2="265.90" stroke="#000" stroke-width="1" />
<line x1="314.56" y1="260.50" x2="317.56" y2="260.50" stroke="#000" stroke-width="1" />
<line x1="314.56" y1="265.50" x2="317.56" y2="265.50" stroke="#000" stroke-width="1" />
<line x1="330.50" y1="261.34" x2="330.50" y2="267.24" stroke="#000" stroke-width="1" />
<line x1="328.56" y1="261.50" x2="331.56" y2="261.50" stroke="#000" stroke-width="1" />
<line x1="328.56" y1="267.50" x2="331.56" y2="267.50" stroke="#000" stroke-width="1" />
<rect x="346.89" y="221.94" width="14.00" height="51.46" fill="#bdbdbd"/>
<rect x="360.89" y="181.74" width="14.00" height="91.66" fill="#1c2593"/>
<line x1="353.50" y1="220.76" x2="353.50" y2="223.12" stroke="#000" stroke-width="1" />
<line x1="352.39" y1="220.50" x2="355.39" y2="220.50" stroke="#000" stroke-width="1" />
<line x1="352.39" y1="223.50" x2="355.39" y2="223.50" stroke="#000" stroke-width="1" />
<line x1="367.50" y1="179.60" x2="367.50" y2="183.89" stroke="#000" stroke-width="1" />
<line x1="366.39" y1="179.50" x2="369.39" y2="179.50" stroke="#000" stroke-width="1" />
<line x1="366.39" y1="183.50" x2="369.39" y2="183.50" stroke="#000" stroke-width="1" />
<line x1="228.50" y1="165.80" x2="228.50" y2="273.80" stroke="#000" stroke-width="1" />
<line x1="228.50" y1="273.50" x2="379.80" y2="273.50" stroke="#000" stroke-width="1" />
<line x1="226.00" y1="273.50" x2="228.50" y2="273.50" stroke="#000" stroke-width="1" />
<text x="225.20" y="275.80" font-size="6.8" text-anchor="end" fill="#000" stroke="#000" stroke-width="0.4" font-weight="normal" font-style="normal" >0</text>
<line x1="226.00" y1="262.50" x2="228.50" y2="262.50" stroke="#000" stroke-width="1" />
<text x="225.20" y="265.08" font-size="6.8" text-anchor="end" fill="#000" stroke="#000" stroke-width="0.4" font-weight="normal" font-style="normal" >20</text>
<line x1="226.00" y1="251.50" x2="228.50" y2="251.50" stroke="#000" stroke-width="1" />
<text x="225.20" y="254.36" font-size="6.8" text-anchor="end" fill="#000" stroke="#000" stroke-width="0.4" font-weight="normal" font-style="normal" >40</text>
<line x1="226.00" y1="241.50" x2="228.50" y2="241.50" stroke="#000" stroke-width="1" />
<text x="225.20" y="243.64" font-size="6.8" text-anchor="end" fill="#000" stroke="#000" stroke-width="0.4" font-weight="normal" font-style="normal" >60</text>
<line x1="226.00" y1="230.50" x2="228.50" y2="230.50" stroke="#000" stroke-width="1" />
<text x="225.20" y="232.92" font-size="6.8" text-anchor="end" fill="#000" stroke="#000" stroke-width="0.4" font-weight="normal" font-style="normal" >80</text>
<line x1="226.00" y1="219.50" x2="228.50" y2="219.50" stroke="#000" stroke-width="1" />
<text x="225.20" y="222.20" font-size="6.8" text-anchor="end" fill="#000" stroke="#000" stroke-width="0.4" font-weight="normal" font-style="normal" >100</text>
<line x1="226.00" y1="209.50" x2="228.50" y2="209.50" stroke="#000" stroke-width="1" />
<text x="225.20" y="211.48" font-size="6.8" text-anchor="end" fill="#000" stroke="#000" stroke-width="0.4" font-weight="normal" font-style="normal" >120</text>
<line x1="226.00" y1="198.50" x2="228.50" y2="198.50" stroke="#000" stroke-width="1" />
<text x="225.20" y="200.76" font-size="6.8" text-anchor="end" fill="#000" stroke="#000" stroke-width="0.4" font-weight="normal" font-style="normal" >140</text>
<line x1="226.00" y1="187.50" x2="228.50" y2="187.50" stroke="#000" stroke-width="1" />
<text x="225.20" y="190.04" font-size="6.8" text-anchor="end" fill="#000" stroke="#000" stroke-width="0.4" font-weight="normal" font-style="normal" >160</text>
<line x1="226.00" y1="176.50" x2="228.50" y2="176.50" stroke="#000" stroke-width="1" />
<text x="225.20" y="179.32" font-size="6.8" text-anchor="end" fill="#000" stroke="#000" stroke-width="0.4" font-weight="normal" font-style="normal" >180</text>
<line x1="226.00" y1="166.50" x2="228.50" y2="166.50" stroke="#000" stroke-width="1" />
<text x="225.20" y="168.60" font-size="6.8" text-anchor="end" fill="#000" stroke="#000" stroke-width="0.4" font-weight="normal" font-style="normal" >200</text>
<line x1="228.50" y1="273.40" x2="228.50" y2="275.60" stroke="#000" stroke-width="1" />
<line x1="266.50" y1="273.40" x2="266.50" y2="275.60" stroke="#000" stroke-width="1" />
<line x1="304.50" y1="273.40" x2="304.50" y2="275.60" stroke="#000" stroke-width="1" />
<line x1="341.50" y1="273.40" x2="341.50" y2="275.60" stroke="#000" stroke-width="1" />
<line x1="379.50" y1="273.40" x2="379.50" y2="275.60" stroke="#000" stroke-width="1" />
<text x="0" y="0" transform="translate(208.90,218.80) rotate(-90)" font-size="9.9" text-anchor="middle" fill="#000" stroke="#000" stroke-width="0.35" font-weight="normal" font-style="normal" textLength="83.00" lengthAdjust="spacingAndGlyphs" >Number of CFU-Cs</text>
<text x="0" y="0" transform="translate(241.60,295.40) rotate(-90)" font-size="8.5" text-anchor="middle" fill="#000" stroke="#000" stroke-width="0.4" font-weight="normal" font-style="normal" >Total</text>
<text x="0" y="0" transform="translate(251.80,295.40) rotate(-90)" font-size="8.5" text-anchor="middle" fill="#000" stroke="#000" stroke-width="0.4" font-weight="normal" font-style="normal" >endosteal</text>
<text x="0" y="0" transform="translate(262.00,295.40) rotate(-90)" font-size="8.5" text-anchor="middle" fill="#000" stroke="#000" stroke-width="0.4" font-weight="normal" font-style="normal" >cell</text>
<text x="284.10" y="284.40" font-size="8.2" text-anchor="middle" fill="#a81a2a" stroke="#a81a2a" stroke-width="0.4" font-weight="normal" font-style="normal" >ALCAM<tspan font-size="4.3" dy="-3.2">+</tspan></text>
<text x="285.40" y="294.40" font-size="8.2" text-anchor="middle" fill="#a81a2a" stroke="#a81a2a" stroke-width="0.4" font-weight="normal" font-style="normal" >Sca-1<tspan font-size="4.3" dy="-3.2">&#8211;</tspan></text>
<text x="321.30" y="284.40" font-size="8.2" text-anchor="middle" fill="#222" stroke="#222" stroke-width="0.4" font-weight="normal" font-style="normal" >ALCAM<tspan font-size="4.3" dy="-3.2">&#8211;</tspan></text>
<text x="322.80" y="294.40" font-size="8.2" text-anchor="middle" fill="#222" stroke="#222" stroke-width="0.4" font-weight="normal" font-style="normal" >Sca-1<tspan font-size="4.3" dy="-3.2">&#8211;</tspan></text>
<text x="357.70" y="284.40" font-size="8.2" text-anchor="middle" fill="#1f6fb5" stroke="#1f6fb5" stroke-width="0.4" font-weight="normal" font-style="normal" >ALCAM<tspan font-size="4.3" dy="-3.2">&#8211;</tspan></text>
<text x="358.90" y="294.40" font-size="8.2" text-anchor="middle" fill="#1f6fb5" stroke="#1f6fb5" stroke-width="0.4" font-weight="normal" font-style="normal" >Sca-1<tspan font-size="4.3" dy="-3.2">+</tspan></text>
<line x1="247.41" y1="167.50" x2="367.89" y2="167.50" stroke="#333" stroke-width="1" />
<line x1="247.50" y1="167.60" x2="247.50" y2="169.20" stroke="#333" stroke-width="1" />
<line x1="367.50" y1="167.60" x2="367.50" y2="169.20" stroke="#333" stroke-width="1" />
<line x1="285.24" y1="170.50" x2="367.89" y2="170.50" stroke="#333" stroke-width="1" />
<line x1="285.50" y1="170.20" x2="285.50" y2="171.80" stroke="#333" stroke-width="1" />
<line x1="367.50" y1="170.20" x2="367.50" y2="171.80" stroke="#333" stroke-width="1" />
<line x1="323.06" y1="173.50" x2="367.89" y2="173.50" stroke="#333" stroke-width="1" />
<line x1="323.50" y1="173.00" x2="323.50" y2="174.60" stroke="#333" stroke-width="1" />
<line x1="367.50" y1="173.00" x2="367.50" y2="174.60" stroke="#333" stroke-width="1" />
<line x1="353.89" y1="175.50" x2="367.89" y2="175.50" stroke="#333" stroke-width="1" />
<line x1="353.50" y1="175.80" x2="353.50" y2="177.40" stroke="#333" stroke-width="1" />
<line x1="367.50" y1="175.80" x2="367.50" y2="177.40" stroke="#333" stroke-width="1" />
<polygon points="372.60,169.89 373.30,171.58 375.13,171.73 373.74,172.92 374.17,174.71 372.60,173.75 371.03,174.71 371.46,172.92 370.07,171.73 371.90,171.58" fill="#000" stroke="#000" stroke-width="0.35" stroke-linejoin="round"/>
<line x1="247.41" y1="207.50" x2="353.89" y2="207.50" stroke="#333" stroke-width="1" />
<line x1="247.50" y1="207.60" x2="247.50" y2="209.20" stroke="#333" stroke-width="1" />
<line x1="353.50" y1="207.60" x2="353.50" y2="209.20" stroke="#333" stroke-width="1" />
<line x1="285.24" y1="211.50" x2="353.89" y2="211.50" stroke="#333" stroke-width="1" />
<line x1="285.50" y1="211.50" x2="285.50" y2="213.10" stroke="#333" stroke-width="1" />
<line x1="353.50" y1="211.50" x2="353.50" y2="213.10" stroke="#333" stroke-width="1" />
<line x1="323.06" y1="215.50" x2="353.89" y2="215.50" stroke="#333" stroke-width="1" />
<line x1="323.50" y1="215.30" x2="323.50" y2="216.90" stroke="#333" stroke-width="1" />
<line x1="353.50" y1="215.30" x2="353.50" y2="216.90" stroke="#333" stroke-width="1" />
<polygon points="357.70,210.69 358.40,212.38 360.23,212.53 358.84,213.72 359.27,215.51 357.70,214.55 356.13,215.51 356.56,213.72 355.17,212.53 357.00,212.38" fill="#000" stroke="#000" stroke-width="0.35" stroke-linejoin="round"/>
<rect x="392.70" y="184.80" width="11.00" height="9.50" fill="#bdbdbd"/>
<text x="406.40" y="192.30" font-size="9.6" text-anchor="start" fill="#000" stroke="#000" stroke-width="0.4" font-weight="normal" font-style="normal" >: Control</text>
<rect x="392.70" y="202.30" width="11.00" height="10.00" fill="#1c2593"/>
<text x="406.40" y="210.60" font-size="9.6" text-anchor="start" fill="#000" stroke="#000" stroke-width="0.4" font-weight="normal" font-style="normal" >: dmPGE2 10 &#181;M</text>
<text x="0.20" y="330.60" font-size="12" text-anchor="start" fill="#000" stroke="#000" stroke-width="0.35" font-weight="bold" font-style="normal" >G</text>
<line x1="27.30" y1="333.50" x2="189.70" y2="333.50" stroke="#111" stroke-width="1" />
<line x1="189.50" y1="333.20" x2="189.50" y2="447.10" stroke="#111" stroke-width="1" />
<rect x="32.69" y="399.91" width="21.60" height="47.19" fill="#bdbdbd"/>
<line x1="43.50" y1="395.03" x2="43.50" y2="404.79" stroke="#000" stroke-width="1" />
<line x1="41.69" y1="395.50" x2="45.29" y2="395.50" stroke="#000" stroke-width="1" />
<line x1="41.69" y1="404.50" x2="45.29" y2="404.50" stroke="#000" stroke-width="1" />
<rect x="65.07" y="375.51" width="21.60" height="71.59" fill="#1c2593"/>
<line x1="75.50" y1="371.84" x2="75.50" y2="379.17" stroke="#000" stroke-width="1" />
<line x1="74.07" y1="371.50" x2="77.67" y2="371.50" stroke="#000" stroke-width="1" />
<line x1="74.07" y1="379.50" x2="77.67" y2="379.50" stroke="#000" stroke-width="1" />
<rect x="97.45" y="377.95" width="21.60" height="69.15" fill="#a30000"/>
<line x1="108.50" y1="368.59" x2="108.50" y2="387.30" stroke="#000" stroke-width="1" />
<line x1="106.45" y1="368.50" x2="110.05" y2="368.50" stroke="#000" stroke-width="1" />
<line x1="106.45" y1="387.50" x2="110.05" y2="387.50" stroke="#000" stroke-width="1" />
<rect x="129.83" y="358.42" width="21.60" height="88.68" fill="#a30000"/>
<line x1="140.50" y1="343.53" x2="140.50" y2="373.31" stroke="#000" stroke-width="1" />
<line x1="138.83" y1="343.50" x2="142.43" y2="343.50" stroke="#000" stroke-width="1" />
<line x1="138.83" y1="373.50" x2="142.43" y2="373.50" stroke="#000" stroke-width="1" />
<rect x="162.21" y="381.61" width="21.60" height="65.49" fill="#a30000"/>
<line x1="173.50" y1="377.95" x2="173.50" y2="385.27" stroke="#000" stroke-width="1" />
<line x1="171.21" y1="377.50" x2="174.81" y2="377.50" stroke="#000" stroke-width="1" />
<line x1="171.21" y1="385.50" x2="174.81" y2="385.50" stroke="#000" stroke-width="1" />
<line x1="27.50" y1="332.80" x2="27.50" y2="447.50" stroke="#000" stroke-width="1" />
<line x1="27.30" y1="447.50" x2="189.20" y2="447.50" stroke="#000" stroke-width="1" />
<line x1="25.50" y1="447.50" x2="27.30" y2="447.50" stroke="#000" stroke-width="1" />
<text x="21.50" y="449.40" font-size="6.4" text-anchor="end" fill="#000" stroke="#000" stroke-width="0.4" font-weight="normal" font-style="normal" >0</text>
<line x1="25.50" y1="430.50" x2="27.30" y2="430.50" stroke="#000" stroke-width="1" />
<text x="21.50" y="433.13" font-size="6.4" text-anchor="end" fill="#000" stroke="#000" stroke-width="0.4" font-weight="normal" font-style="normal" >20</text>
<line x1="25.50" y1="414.50" x2="27.30" y2="414.50" stroke="#000" stroke-width="1" />
<text x="21.50" y="416.86" font-size="6.4" text-anchor="end" fill="#000" stroke="#000" stroke-width="0.4" font-weight="normal" font-style="normal" >40</text>
<line x1="25.50" y1="398.50" x2="27.30" y2="398.50" stroke="#000" stroke-width="1" />
<text x="21.50" y="400.59" font-size="6.4" text-anchor="end" fill="#000" stroke="#000" stroke-width="0.4" font-weight="normal" font-style="normal" >60</text>
<line x1="25.50" y1="382.50" x2="27.30" y2="382.50" stroke="#000" stroke-width="1" />
<text x="21.50" y="384.31" font-size="6.4" text-anchor="end" fill="#000" stroke="#000" stroke-width="0.4" font-weight="normal" font-style="normal" >80</text>
<line x1="25.50" y1="365.50" x2="27.30" y2="365.50" stroke="#000" stroke-width="1" />
<text x="21.50" y="368.04" font-size="6.4" text-anchor="end" fill="#000" stroke="#000" stroke-width="0.4" font-weight="normal" font-style="normal" >100</text>
<line x1="25.50" y1="349.50" x2="27.30" y2="349.50" stroke="#000" stroke-width="1" />
<text x="21.50" y="351.77" font-size="6.4" text-anchor="end" fill="#000" stroke="#000" stroke-width="0.4" font-weight="normal" font-style="normal" >120</text>
<line x1="25.50" y1="333.50" x2="27.30" y2="333.50" stroke="#000" stroke-width="1" />
<text x="21.50" y="335.50" font-size="6.4" text-anchor="end" fill="#000" stroke="#000" stroke-width="0.4" font-weight="normal" font-style="normal" >140</text>
<line x1="27.50" y1="447.10" x2="27.50" y2="449.30" stroke="#000" stroke-width="1" />
<line x1="59.50" y1="447.10" x2="59.50" y2="449.30" stroke="#000" stroke-width="1" />
<line x1="92.50" y1="447.10" x2="92.50" y2="449.30" stroke="#000" stroke-width="1" />
<line x1="124.50" y1="447.10" x2="124.50" y2="449.30" stroke="#000" stroke-width="1" />
<line x1="156.50" y1="447.10" x2="156.50" y2="449.30" stroke="#000" stroke-width="1" />
<line x1="189.50" y1="447.10" x2="189.50" y2="449.30" stroke="#000" stroke-width="1" />
<text x="0" y="0" transform="translate(5.40,391.50) rotate(-90)" font-size="7.6" text-anchor="middle" fill="#000" stroke="#000" stroke-width="0.4" font-weight="normal" font-style="normal" textLength="65.00" lengthAdjust="spacingAndGlyphs" >Number of CFU-Cs</text>
<text x="43.49" y="456.00" font-size="6.6" text-anchor="middle" fill="#000" stroke="#000" stroke-width="0.4" font-weight="normal" font-style="normal" >Control</text>
<text x="75.87" y="456.00" font-size="6.6" text-anchor="middle" fill="#000" stroke="#000" stroke-width="0.4" font-weight="normal" font-style="normal" >dmPGE2</text>
<text x="108.25" y="456.00" font-size="6.6" text-anchor="middle" fill="#000" stroke="#000" stroke-width="0.4" font-weight="normal" font-style="normal" >0.1 &#181;M</text>
<text x="140.63" y="456.00" font-size="6.6" text-anchor="middle" fill="#000" stroke="#000" stroke-width="0.4" font-weight="normal" font-style="normal" >1 &#181;M</text>
<text x="173.01" y="456.00" font-size="6.6" text-anchor="middle" fill="#000" stroke="#000" stroke-width="0.4" font-weight="normal" font-style="normal" >10 &#181;M</text>
<text x="75.87" y="462.60" font-size="6.6" text-anchor="middle" fill="#000" stroke="#000" stroke-width="0.4" font-weight="normal" font-style="normal" >(10 &#181;M )</text>
<line x1="96.56" y1="460.50" x2="184.70" y2="460.50" stroke="#000" stroke-width="1" />
<text x="140.63" y="469.00" font-size="6.6" text-anchor="middle" fill="#000" stroke="#000" stroke-width="0.4" font-weight="normal" font-style="normal" >EP4 agonist</text>
<line x1="43.49" y1="335.50" x2="140.63" y2="335.50" stroke="#111" stroke-width="1" />
<line x1="43.50" y1="335.40" x2="43.50" y2="337.60" stroke="#111" stroke-width="1" />
<line x1="140.50" y1="335.40" x2="140.50" y2="337.60" stroke="#111" stroke-width="1" />
<line x1="43.49" y1="348.50" x2="75.87" y2="348.50" stroke="#111" stroke-width="1" />
<line x1="43.50" y1="348.50" x2="43.50" y2="350.70" stroke="#111" stroke-width="1" />
<line x1="75.50" y1="348.50" x2="75.50" y2="350.70" stroke="#111" stroke-width="1" />
<line x1="140.63" y1="339.50" x2="173.01" y2="339.50" stroke="#111" stroke-width="1" />
<line x1="140.50" y1="339.80" x2="140.50" y2="342.00" stroke="#111" stroke-width="1" />
<line x1="173.50" y1="339.80" x2="173.50" y2="342.00" stroke="#111" stroke-width="1" />
<polygon points="59.50,349.98 60.20,351.68 62.03,351.83 60.64,353.02 61.07,354.81 59.50,353.85 57.93,354.81 58.36,353.02 56.97,351.83 58.80,351.68" fill="#000" stroke="#000" stroke-width="0.35" stroke-linejoin="round"/>
<polygon points="136.70,337.58 137.40,339.28 139.23,339.43 137.84,340.62 138.27,342.41 136.70,341.45 135.13,342.41 135.56,340.62 134.17,339.43 136.00,339.28" fill="#000" stroke="#000" stroke-width="0.35" stroke-linejoin="round"/>
<text x="213.30" y="330.60" font-size="12" text-anchor="start" fill="#000" stroke="#000" stroke-width="0.35" font-weight="bold" font-style="normal" >H</text>
<line x1="241.80" y1="333.50" x2="404.80" y2="333.50" stroke="#111" stroke-width="1" />
<line x1="404.50" y1="333.30" x2="404.50" y2="446.60" stroke="#111" stroke-width="1" />
<rect x="247.25" y="393.35" width="21.60" height="53.25" fill="#bdbdbd"/>
<line x1="258.50" y1="384.29" x2="258.50" y2="402.41" stroke="#000" stroke-width="1" />
<line x1="256.25" y1="384.50" x2="259.85" y2="384.50" stroke="#000" stroke-width="1" />
<line x1="256.25" y1="402.50" x2="259.85" y2="402.50" stroke="#000" stroke-width="1" />
<rect x="279.75" y="357.09" width="21.60" height="89.51" fill="#1c2593"/>
<line x1="290.50" y1="354.83" x2="290.50" y2="359.36" stroke="#000" stroke-width="1" />
<line x1="288.75" y1="354.50" x2="292.35" y2="354.50" stroke="#000" stroke-width="1" />
<line x1="288.75" y1="359.50" x2="292.35" y2="359.50" stroke="#000" stroke-width="1" />
<rect x="312.25" y="370.69" width="21.60" height="75.91" fill="#a30000"/>
<line x1="323.50" y1="358.91" x2="323.50" y2="382.47" stroke="#000" stroke-width="1" />
<line x1="321.25" y1="358.50" x2="324.85" y2="358.50" stroke="#000" stroke-width="1" />
<line x1="321.25" y1="382.50" x2="324.85" y2="382.50" stroke="#000" stroke-width="1" />
<rect x="344.75" y="368.42" width="21.60" height="78.18" fill="#a30000"/>
<line x1="355.50" y1="363.89" x2="355.50" y2="372.96" stroke="#000" stroke-width="1" />
<line x1="353.75" y1="363.50" x2="357.35" y2="363.50" stroke="#000" stroke-width="1" />
<line x1="353.75" y1="372.50" x2="357.35" y2="372.50" stroke="#000" stroke-width="1" />
<rect x="377.25" y="374.09" width="21.60" height="72.51" fill="#a30000"/>
<line x1="388.50" y1="365.48" x2="388.50" y2="382.70" stroke="#000" stroke-width="1" />
<line x1="386.25" y1="365.50" x2="389.85" y2="365.50" stroke="#000" stroke-width="1" />
<line x1="386.25" y1="382.50" x2="389.85" y2="382.50" stroke="#000" stroke-width="1" />
<line x1="241.50" y1="332.90" x2="241.50" y2="447.00" stroke="#000" stroke-width="1" />
<line x1="241.80" y1="446.50" x2="404.30" y2="446.50" stroke="#000" stroke-width="1" />
<line x1="240.00" y1="446.50" x2="241.80" y2="446.50" stroke="#000" stroke-width="1" />
<text x="236.00" y="448.90" font-size="6.4" text-anchor="end" fill="#000" stroke="#000" stroke-width="0.4" font-weight="normal" font-style="normal" >0</text>
<line x1="240.00" y1="423.50" x2="241.80" y2="423.50" stroke="#000" stroke-width="1" />
<text x="236.00" y="426.24" font-size="6.4" text-anchor="end" fill="#000" stroke="#000" stroke-width="0.4" font-weight="normal" font-style="normal" >10</text>
<line x1="240.00" y1="401.50" x2="241.80" y2="401.50" stroke="#000" stroke-width="1" />
<text x="236.00" y="403.58" font-size="6.4" text-anchor="end" fill="#000" stroke="#000" stroke-width="0.4" font-weight="normal" font-style="normal" >20</text>
<line x1="240.00" y1="378.50" x2="241.80" y2="378.50" stroke="#000" stroke-width="1" />
<text x="236.00" y="380.92" font-size="6.4" text-anchor="end" fill="#000" stroke="#000" stroke-width="0.4" font-weight="normal" font-style="normal" >30</text>
<line x1="240.00" y1="355.50" x2="241.80" y2="355.50" stroke="#000" stroke-width="1" />
<text x="236.00" y="358.26" font-size="6.4" text-anchor="end" fill="#000" stroke="#000" stroke-width="0.4" font-weight="normal" font-style="normal" >40</text>
<line x1="240.00" y1="333.50" x2="241.80" y2="333.50" stroke="#000" stroke-width="1" />
<text x="236.00" y="335.60" font-size="6.4" text-anchor="end" fill="#000" stroke="#000" stroke-width="0.4" font-weight="normal" font-style="normal" >50</text>
<line x1="241.50" y1="446.60" x2="241.50" y2="448.80" stroke="#000" stroke-width="1" />
<line x1="274.50" y1="446.60" x2="274.50" y2="448.80" stroke="#000" stroke-width="1" />
<line x1="306.50" y1="446.60" x2="306.50" y2="448.80" stroke="#000" stroke-width="1" />
<line x1="339.50" y1="446.60" x2="339.50" y2="448.80" stroke="#000" stroke-width="1" />
<line x1="371.50" y1="446.60" x2="371.50" y2="448.80" stroke="#000" stroke-width="1" />
<line x1="404.50" y1="446.60" x2="404.50" y2="448.80" stroke="#000" stroke-width="1" />
<text x="0" y="0" transform="translate(219.90,391.50) rotate(-90)" font-size="7.7" text-anchor="middle" fill="#000" stroke="#000" stroke-width="0.4" font-weight="normal" font-style="normal" textLength="76.00" lengthAdjust="spacingAndGlyphs" >Number of HPP-CFCs</text>
<text x="258.05" y="456.00" font-size="6.6" text-anchor="middle" fill="#000" stroke="#000" stroke-width="0.4" font-weight="normal" font-style="normal" >Control</text>
<text x="290.55" y="456.00" font-size="6.6" text-anchor="middle" fill="#000" stroke="#000" stroke-width="0.4" font-weight="normal" font-style="normal" >dmPGE2</text>
<text x="323.05" y="456.00" font-size="6.6" text-anchor="middle" fill="#000" stroke="#000" stroke-width="0.4" font-weight="normal" font-style="normal" >0.1 &#181;M</text>
<text x="355.55" y="456.00" font-size="6.6" text-anchor="middle" fill="#000" stroke="#000" stroke-width="0.4" font-weight="normal" font-style="normal" >1 &#181;M</text>
<text x="388.05" y="456.00" font-size="6.6" text-anchor="middle" fill="#000" stroke="#000" stroke-width="0.4" font-weight="normal" font-style="normal" >10 &#181;M</text>
<text x="290.55" y="462.60" font-size="6.6" text-anchor="middle" fill="#000" stroke="#000" stroke-width="0.4" font-weight="normal" font-style="normal" >(10 &#181;M )</text>
<line x1="311.30" y1="460.50" x2="399.80" y2="460.50" stroke="#000" stroke-width="1" />
<text x="355.55" y="469.00" font-size="6.6" text-anchor="middle" fill="#000" stroke="#000" stroke-width="0.4" font-weight="normal" font-style="normal" >EP4 agonist</text>
<line x1="258.05" y1="339.50" x2="388.05" y2="339.50" stroke="#111" stroke-width="1" />
<line x1="258.50" y1="339.00" x2="258.50" y2="341.20" stroke="#111" stroke-width="1" />
<line x1="388.50" y1="339.00" x2="388.50" y2="341.20" stroke="#111" stroke-width="1" />
<line x1="258.05" y1="342.50" x2="355.55" y2="342.50" stroke="#111" stroke-width="1" />
<line x1="258.50" y1="342.60" x2="258.50" y2="344.80" stroke="#111" stroke-width="1" />
<line x1="355.50" y1="342.60" x2="355.50" y2="344.80" stroke="#111" stroke-width="1" />
<line x1="258.05" y1="346.50" x2="323.05" y2="346.50" stroke="#111" stroke-width="1" />
<line x1="258.50" y1="346.10" x2="258.50" y2="348.30" stroke="#111" stroke-width="1" />
<line x1="323.50" y1="346.10" x2="323.50" y2="348.30" stroke="#111" stroke-width="1" />
<line x1="258.05" y1="349.50" x2="290.55" y2="349.50" stroke="#111" stroke-width="1" />
<line x1="258.50" y1="349.60" x2="258.50" y2="351.80" stroke="#111" stroke-width="1" />
<line x1="290.50" y1="349.60" x2="290.50" y2="351.80" stroke="#111" stroke-width="1" />
<polygon points="253.30,343.88 254.00,345.58 255.83,345.73 254.44,346.92 254.87,348.71 253.30,347.75 251.73,348.71 252.16,346.92 250.77,345.73 252.60,345.58" fill="#000" stroke="#000" stroke-width="0.35" stroke-linejoin="round"/>
</svg>
</body></html>
